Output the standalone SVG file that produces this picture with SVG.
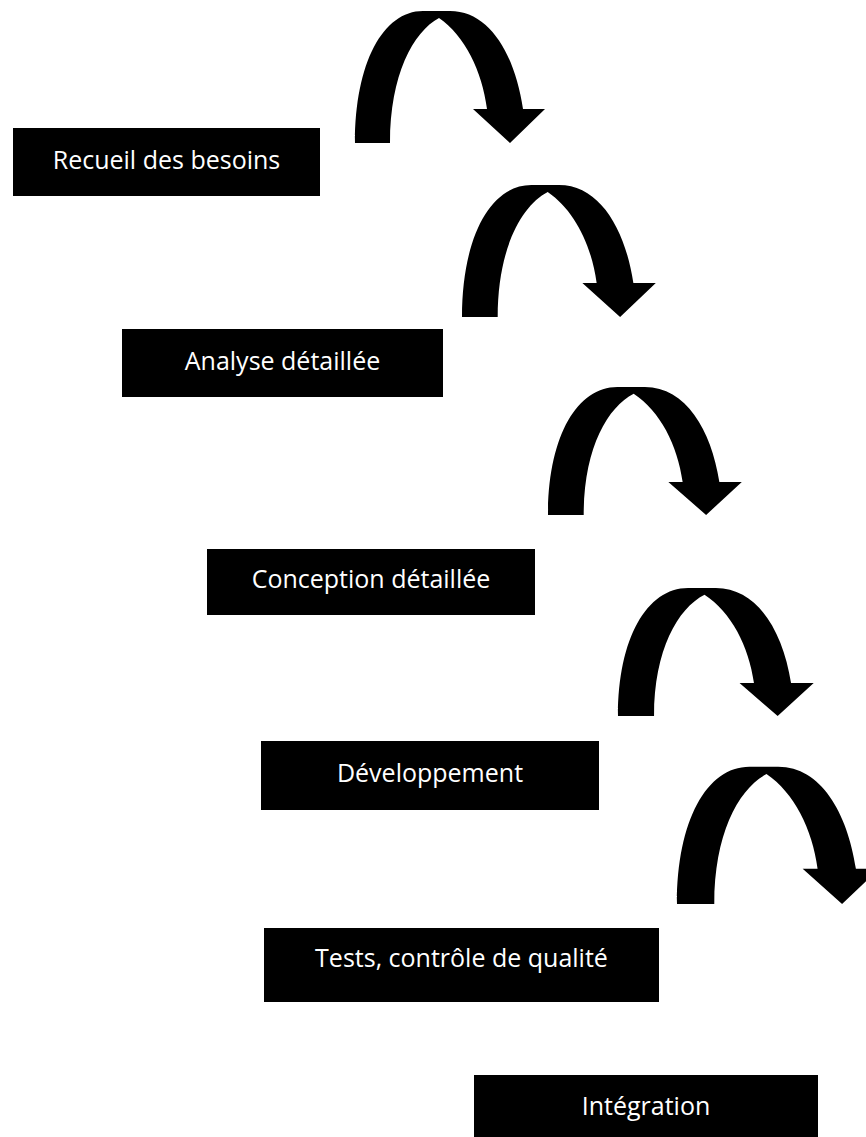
<svg xmlns="http://www.w3.org/2000/svg" width="866" height="1137" viewBox="0 0 866 1137">
  <style>
    .box { fill: #000000; }
    .lbl { fill: #ffffff; font-family: "Open Sans", "Noto Sans", "Liberation Sans", sans-serif; font-size: 25px; text-anchor: middle; }
    .arr { fill: #000000; }
  </style>
  <defs>
    <path id="curvedArrow" d="M0,0 C0,-80 28,-132 68,-132 L95,-132 C135,-132 160,-88 168,-34 L190,-34 L155,0 L118,-34 L132,-34 C127,-72 110,-107 84,-125 C58,-111 35,-68 35,0 Z"/>
  </defs>
  <rect width="866" height="1137" fill="#ffffff"/>
  <g id="connectors">
    <use href="#curvedArrow" class="arr" transform="translate(355,143)"/>
    <use href="#curvedArrow" class="arr" transform="translate(462,317) scale(1.02,1)"/>
    <use href="#curvedArrow" class="arr" transform="translate(548,515) scale(1.02,0.97)"/>
    <use href="#curvedArrow" class="arr" transform="translate(618,716) scale(1.03,0.97)"/>
    <use href="#curvedArrow" class="arr" transform="translate(677,904) scale(1.065,1.04)"/>
  </g>
  <g id="node-recueil">
    <rect class="box" x="13" y="128" width="307" height="68"/>
    <text class="lbl" x="166.5" y="169">Recueil des besoins</text>
  </g>
  <g id="node-analyse">
    <rect class="box" x="122" y="329" width="321" height="68"/>
    <text class="lbl" x="282.5" y="370">Analyse détaillée</text>
  </g>
  <g id="node-conception">
    <rect class="box" x="207" y="549" width="328" height="66"/>
    <text class="lbl" x="371" y="588">Conception détaillée</text>
  </g>
  <g id="node-developpement">
    <rect class="box" x="261" y="741" width="338" height="69"/>
    <text class="lbl" x="430" y="782">Développement</text>
  </g>
  <g id="node-tests">
    <rect class="box" x="264" y="928" width="395" height="74"/>
    <text class="lbl" x="461.5" y="967">Tests, contrôle de qualité</text>
  </g>
  <g id="node-integration">
    <rect class="box" x="474" y="1075" width="344" height="70"/>
    <text class="lbl" x="646" y="1115">Intégration</text>
  </g>
</svg>
